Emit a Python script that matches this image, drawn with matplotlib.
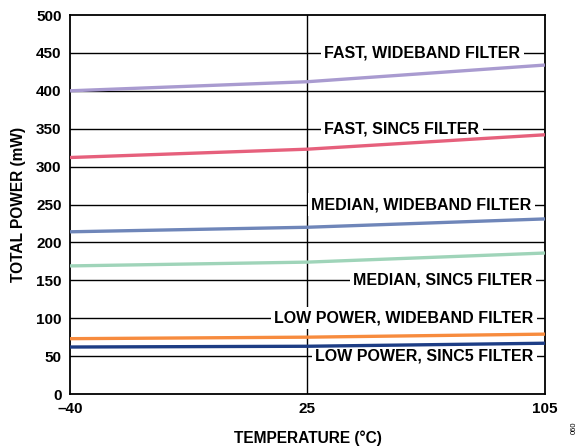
import numpy as np
import matplotlib
matplotlib.use("Agg")
import matplotlib.pyplot as plt
import matplotlib.transforms as mtransforms

temps = [-40, 25, 105]
fast_wide = [400, 412, 434]
fast_sinc5 = [312, 323, 342]
median_wide = [214, 220, 231]
median_sinc5 = [169, 174, 186]
low_wide = [73, 75, 79]
low_sinc5 = [62, 63, 67]

series = [
    (fast_wide, "#a99bd0"),
    (fast_sinc5, "#e6607c"),
    (median_wide, "#6f86b9"),
    (median_sinc5, "#9fd4b9"),
    (low_wide, "#f78b3e"),
    (low_sinc5, "#1d3d85"),
]

labels = [
    ("FAST, WIDEBAND FILTER", 450, 0.535, "left"),
    ("FAST, SINC5 FILTER", 350, 0.535, "left"),
    ("MEDIAN, WIDEBAND FILTER", 250, 0.972, "right"),
    ("MEDIAN, SINC5 FILTER", 150, 0.974, "right"),
    ("LOW POWER, WIDEBAND FILTER", 100, 0.976, "right"),
    ("LOW POWER, SINC5 FILTER", 50, 0.976, "right"),
]

plt.rcParams['font.family'] = ['Liberation Sans', 'DejaVu Sans']

fig = plt.figure(figsize=(5.82, 4.48), dpi=100)
ax = fig.add_axes([0.1203, 0.1205, 0.8161, 0.846])

pos = [0, 1, 2]
fwd = lambda x: np.interp(x, temps, pos)
inv = lambda y: np.interp(y, pos, temps)
ax.set_xscale('function', functions=(fwd, inv))

for vals, c in series:
    ax.plot(temps, vals, color=c, lw=2.4, solid_capstyle='butt', zorder=3)

ax.set_xlim(-40, 105)
ax.set_ylim(0, 500)
ax.set_xticks(temps)
ax.set_xticklabels(["\u201340", "25", "105"])
ax.set_yticks(np.arange(0, 501, 50))

for y in range(50, 500, 50):
    ax.axhline(y, color='black', lw=1.0, zorder=1)
ax.axvline(25, color='black', lw=1.0, zorder=1)

trans = mtransforms.blended_transform_factory(ax.transAxes, ax.transData)
for txt, y, xf, ha in labels:
    ax.text(xf, y, txt, transform=trans, ha=ha, va='center',
            fontsize=11.5, fontweight='bold', zorder=2,
            bbox=dict(facecolor='white', edgecolor='none', pad=2.5))

for s in ax.spines.values():
    s.set_linewidth(1.3)
ax.tick_params(length=0, pad=6, labelsize=11)
for lab in ax.get_xticklabels() + ax.get_yticklabels():
    lab.set_fontweight('bold')

ax.set_xlabel("TEMPERATURE (\u00b0C)", fontsize=11.2, fontweight='bold', labelpad=10)
ax.set_ylabel("TOTAL POWER (mW)", fontsize=11.2, fontweight='bold', labelpad=7)

fig.text(0.987, 0.045, "060", rotation=90, fontsize=5.5, ha='center', va='center')

fig.savefig("out.png", dpi=100)
